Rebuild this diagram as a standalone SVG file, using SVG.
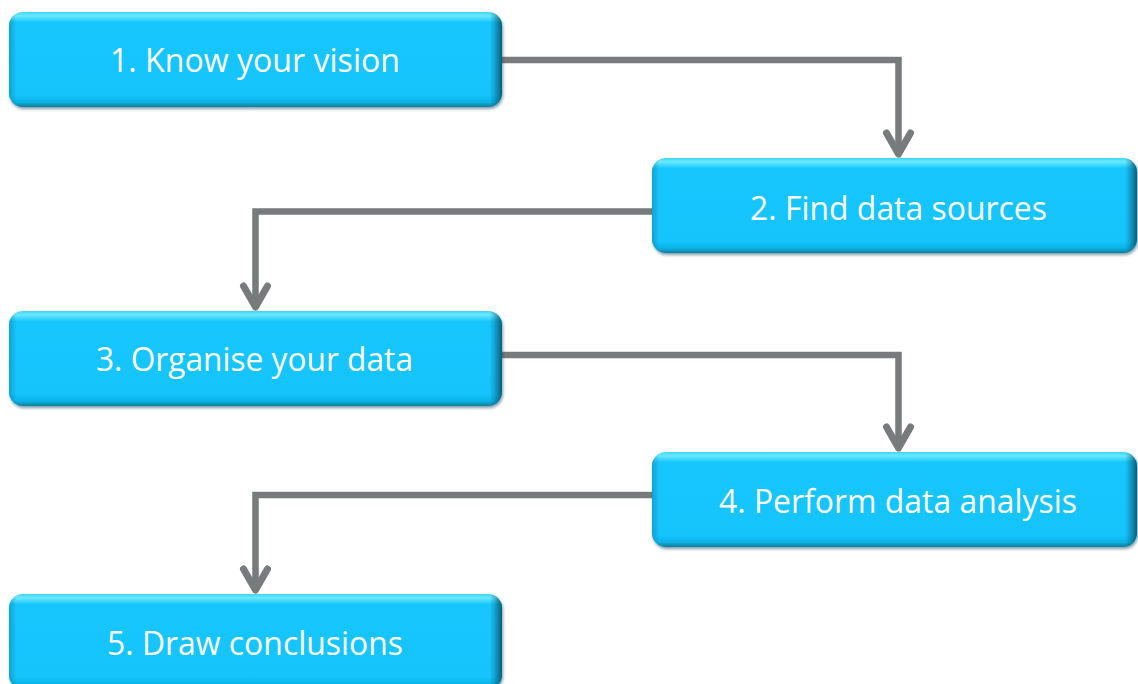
<svg xmlns="http://www.w3.org/2000/svg" width="1138" height="684" viewBox="0 0 1138 684">
<defs>
<linearGradient id="vg" x1="0" y1="0" x2="0" y2="1">
<stop offset="0" stop-color="#3fd4fb"/>
<stop offset="0.04" stop-color="#6ae9ff"/>
<stop offset="0.11" stop-color="#14c6fd"/>
<stop offset="0.88" stop-color="#12c4fc"/>
<stop offset="0.95" stop-color="#0fb2e4"/>
<stop offset="1" stop-color="#0a7d9c"/>
</linearGradient>
<linearGradient id="hg" x1="0" y1="0" x2="1" y2="0">
<stop offset="0" stop-color="#05607a" stop-opacity="0.35"/>
<stop offset="0.015" stop-color="#05607a" stop-opacity="0"/>
<stop offset="0.975" stop-color="#05607a" stop-opacity="0"/>
<stop offset="1" stop-color="#043a4a" stop-opacity="0.75"/>
</linearGradient>
<filter id="sh" x="-5%" y="-10%" width="110%" height="130%">
<feDropShadow dx="1" dy="2" stdDeviation="1.5" flood-color="#0b4e60" flood-opacity="0.55"/>
</filter>
<marker id="arr" markerUnits="userSpaceOnUse" viewBox="-30 -20 40 40" markerWidth="40" markerHeight="40" refX="0" refY="0" orient="auto" overflow="visible">
<path d="M -21 -12 L 0 0 L -21 12" fill="none" stroke="#777b7c" stroke-width="7" stroke-linecap="round" stroke-linejoin="round"/>
</marker>
</defs>
<style>
.box{fill:url(#vg);filter:url(#sh)}
.edge{fill:url(#hg)}
.lbl{font-family:"Open Sans","Noto Sans","Liberation Sans",sans-serif;font-size:33px;fill:#ffffff;text-anchor:middle}
.con{fill:none;stroke:#777b7c;stroke-width:6.5;marker-end:url(#arr)}
</style>
<g id="connectors">
<path class="con" d="M 502 60 H 898.5 V 154"/>
<path class="con" d="M 652 211.5 H 255.5 V 307"/>
<path class="con" d="M 502 355 H 898.5 V 448"/>
<path class="con" d="M 652 495 H 255.5 V 590"/>
</g>
<g id="node1">
<rect class="box" x="9" y="12" width="493" height="95" rx="14"/>
<rect class="edge" x="9" y="12" width="493" height="95" rx="14"/>
<text class="lbl" x="255" y="72" textLength="290" lengthAdjust="spacingAndGlyphs">1. Know your vision</text>
</g>
<g id="node2">
<rect class="box" x="652" y="158" width="485" height="95" rx="14"/>
<rect class="edge" x="652" y="158" width="485" height="95" rx="14"/>
<text class="lbl" x="898.5" y="220" textLength="297" lengthAdjust="spacingAndGlyphs">2. Find data sources</text>
</g>
<g id="node3">
<rect class="box" x="9" y="311" width="493" height="95" rx="14"/>
<rect class="edge" x="9" y="311" width="493" height="95" rx="14"/>
<text class="lbl" x="254.5" y="371" textLength="317" lengthAdjust="spacingAndGlyphs">3. Organise your data</text>
</g>
<g id="node4">
<rect class="box" x="652" y="452" width="485" height="95" rx="14"/>
<rect class="edge" x="652" y="452" width="485" height="95" rx="14"/>
<text class="lbl" x="898" y="513" textLength="358" lengthAdjust="spacingAndGlyphs">4. Perform data analysis</text>
</g>
<g id="node5">
<rect class="box" x="9" y="594" width="493" height="95" rx="14"/>
<rect class="edge" x="9" y="594" width="493" height="95" rx="14"/>
<text class="lbl" x="255" y="655" textLength="296" lengthAdjust="spacingAndGlyphs">5. Draw conclusions</text>
</g>
</svg>
